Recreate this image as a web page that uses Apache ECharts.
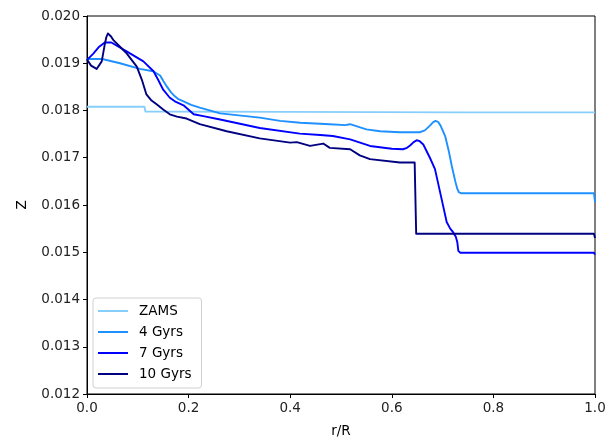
<!DOCTYPE html>
<html>
<head>
<meta charset="utf-8">
<script src="https://cdn.jsdelivr.net/npm/echarts@6/dist/echarts.min.js"></script>
<style>
  html, body { margin: 0; padding: 0; background: #fff; }
  #chart { width: 615px; height: 443px; }
</style>
</head>
<body>
<div id="chart"></div>
<script>
// Metallicity profiles Z(r/R) at several ages
const seriesNames = ['ZAMS', '4 Gyrs', '7 Gyrs', '10 Gyrs'];

const zamsR = [0, 0.113, 0.115, 0.4, 0.74, 1.0];
const zamsZ = [0.01808, 0.01808, 0.01798, 0.01797, 0.01796, 0.01796];

const gyr4R = [0, 0.03, 0.065, 0.104, 0.13, 0.144, 0.15, 0.157, 0.165, 0.173, 0.18, 0.189, 0.205, 0.222, 0.262, 0.34, 0.38, 0.42, 0.478, 0.508, 0.518, 0.53, 0.55, 0.577, 0.616, 0.655, 0.665, 0.675, 0.681, 0.686, 0.691, 0.696, 0.705, 0.712, 0.718, 0.725, 0.729, 0.732, 0.736, 0.8, 0.998, 1.0];
const gyr4Z = [0.01909, 0.01909, 0.01900, 0.01888, 0.01883, 0.01874, 0.01863, 0.01851, 0.01839, 0.01830, 0.01824, 0.01820, 0.01812, 0.01806, 0.01794, 0.01785, 0.01778, 0.01774, 0.01771, 0.01769, 0.01771, 0.01767, 0.01760, 0.01756, 0.01754, 0.01754, 0.01758, 0.01768, 0.01775, 0.01778, 0.01776, 0.01768, 0.01746, 0.01715, 0.01683, 0.01650, 0.01634, 0.01627, 0.01625, 0.01625, 0.01625, 0.01606];

const gyr7R = [0, 0.012, 0.024, 0.035, 0.048, 0.078, 0.111, 0.131, 0.14, 0.15, 0.163, 0.175, 0.19, 0.21, 0.229, 0.262, 0.34, 0.419, 0.459, 0.484, 0.518, 0.557, 0.6, 0.622, 0.63, 0.636, 0.643, 0.649, 0.655, 0.662, 0.675, 0.685, 0.698, 0.708, 0.715, 0.721, 0.726, 0.729, 0.731, 0.735, 0.8, 0.998, 1.0];
const gyr7Z = [0.01907, 0.01920, 0.01935, 0.01944, 0.01944, 0.01925, 0.01904, 0.01883, 0.01865, 0.01844, 0.01827, 0.01818, 0.01811, 0.01792, 0.01788, 0.01781, 0.01763, 0.01751, 0.01748, 0.01746, 0.01739, 0.01725, 0.01719, 0.01718, 0.01721, 0.01726, 0.01733, 0.01737, 0.01735, 0.01728, 0.01700, 0.01676, 0.01613, 0.01564, 0.01550, 0.01542, 0.01533, 0.01521, 0.01503, 0.01499, 0.01499, 0.01499, 0.01495];

const gyr10R = [0, 0.008, 0.019, 0.029, 0.035, 0.038, 0.041, 0.044, 0.047, 0.052, 0.065, 0.078, 0.098, 0.108, 0.117, 0.127, 0.137, 0.15, 0.163, 0.177, 0.196, 0.222, 0.275, 0.34, 0.4, 0.413, 0.439, 0.465, 0.478, 0.518, 0.537, 0.557, 0.616, 0.645, 0.648, 0.7, 0.998, 1.0];
const gyr10Z = [0.01908, 0.01895, 0.01888, 0.01904, 0.01940, 0.01955, 0.01963, 0.01962, 0.01957, 0.01949, 0.01935, 0.01921, 0.01893, 0.01865, 0.01834, 0.01821, 0.01813, 0.01802, 0.01792, 0.01787, 0.01783, 0.01771, 0.01756, 0.01741, 0.01732, 0.01733, 0.01725, 0.01730, 0.01721, 0.01718, 0.01705, 0.01697, 0.01690, 0.01690, 0.01539, 0.01539, 0.01539, 0.01530];

const colors = ['#87CEFA', '#1E90FF', '#0000FF', '#000080'];
const xTicks = [0, 0.2, 0.4, 0.6, 0.8, 1.0];
const yTicks = [0.012, 0.013, 0.014, 0.015, 0.016, 0.017, 0.018, 0.019, 0.020];

const pairs = (rs, zs) => rs.map((r, i) => [r, zs[i]]);
const profiles = [pairs(zamsR, zamsZ), pairs(gyr4R, gyr4Z), pairs(gyr7R, gyr7Z), pairs(gyr10R, gyr10Z)];

const font = 'DejaVu Sans';
const chart = echarts.init(document.getElementById('chart'), null, { renderer: 'canvas' });

chart.setOption({
  animation: false,
  backgroundColor: '#fff',
  grid: {
    left: 87, right: 20, top: 16, bottom: 47,
    show: true, borderColor: '#000', borderWidth: 1, backgroundColor: 'transparent'
  },
  legend: {
    orient: 'vertical',
    left: 93, top: 298,
    data: seriesNames,
    icon: 'rect',
    itemWidth: 30, itemHeight: 2,
    itemGap: 7,
    padding: [6, 10, 7, 5],
    backgroundColor: 'rgba(255,255,255,0.8)',
    borderColor: '#d0d0d0', borderWidth: 1, borderRadius: 3,
    textStyle: { fontFamily: font, fontSize: 13.5, color: '#000', padding: [0, 0, 0, 6] }
  },
  xAxis: {
    type: 'value', min: 0, max: 1, interval: 0.2,
    name: 'r/R', nameLocation: 'middle', nameGap: 30,
    nameTextStyle: { fontFamily: font, fontSize: 13.5, color: '#000' },
    axisLine: { show: true, lineStyle: { color: '#000', width: 1 } },
    axisTick: { show: true, inside: false, length: 4, lineStyle: { color: '#000' } },
    axisLabel: {
      fontFamily: font, fontSize: 13.5, color: '#222', margin: 7,
      formatter: v => xTicks.some(t => Math.abs(t - v) < 1e-9) ? v.toFixed(1) : ''
    },
    splitLine: { show: false }
  },
  yAxis: {
    type: 'value', min: 0.012, max: 0.020, interval: 0.001,
    name: 'Z', nameLocation: 'middle', nameGap: 58, nameRotate: 90,
    nameTextStyle: { fontFamily: font, fontSize: 13.5, color: '#000' },
    axisLine: { show: true, lineStyle: { color: '#000', width: 1 } },
    axisTick: { show: true, inside: false, length: 4, lineStyle: { color: '#000' } },
    axisLabel: {
      fontFamily: font, fontSize: 13.5, color: '#222', margin: 7,
      formatter: v => yTicks.some(t => Math.abs(t - v) < 1e-9) ? v.toFixed(3) : ''
    },
    splitLine: { show: false }
  },
  series: seriesNames.map((name, i) => ({
    name: name,
    type: 'line',
    data: profiles[i],
    showSymbol: false,
    symbol: 'none',
    smooth: false,
    color: colors[i],
    lineStyle: { color: colors[i], width: 1.9, join: 'round' },
    z: 2 + i
  }))
});
</script>
</body>
</html>
